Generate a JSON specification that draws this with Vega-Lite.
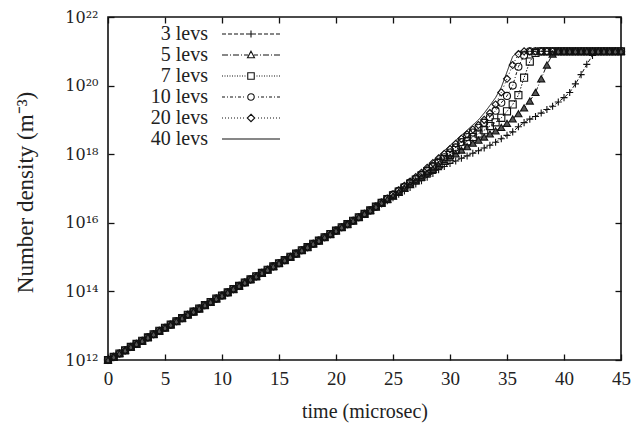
{
"$schema":"https://vega.github.io/schema/vega-lite/v6.json",
"width":513,"height":343,
"autosize":"none",
"padding":{"left":108,"top":17,"right":13,"bottom":72},
"background":"white",
"config":{"view":{"stroke":"#111","strokeWidth":1.6},"font":"Liberation Serif"},
"data":{"values":[
{"s":"3 levs","t":0,"n":1e12},{"s":"3 levs","t":0.5,"n":1.23e12},{"s":"3 levs","t":1,"n":1.55e12},{"s":"3 levs","t":1.5,"n":1.91e12},{"s":"3 levs","t":2,"n":2.4e12},{"s":"3 levs","t":2.5,"n":2.95e12},{"s":"3 levs","t":3,"n":3.63e12},{"s":"3 levs","t":3.5,"n":4.57e12},{"s":"3 levs","t":4,"n":5.62e12},{"s":"3 levs","t":4.5,"n":7.08e12},{"s":"3 levs","t":5,"n":8.71e12},{"s":"3 levs","t":5.5,"n":1.07e13},{"s":"3 levs","t":6,"n":1.35e13},{"s":"3 levs","t":6.5,"n":1.66e13},{"s":"3 levs","t":7,"n":2.09e13},{"s":"3 levs","t":7.5,"n":2.57e13},{"s":"3 levs","t":8,"n":3.16e13},{"s":"3 levs","t":8.5,"n":3.98e13},{"s":"3 levs","t":9,"n":4.9e13},{"s":"3 levs","t":9.5,"n":6.17e13},{"s":"3 levs","t":10,"n":7.59e13},{"s":"3 levs","t":10.5,"n":9.33e13},{"s":"3 levs","t":11,"n":1.17e14},{"s":"3 levs","t":11.5,"n":1.45e14},{"s":"3 levs","t":12,"n":1.82e14},{"s":"3 levs","t":12.5,"n":2.24e14},{"s":"3 levs","t":13,"n":2.75e14},{"s":"3 levs","t":13.5,"n":3.47e14},{"s":"3 levs","t":14,"n":4.27e14},{"s":"3 levs","t":14.5,"n":5.37e14},{"s":"3 levs","t":15,"n":6.61e14},{"s":"3 levs","t":15.5,"n":8.13e14},{"s":"3 levs","t":16,"n":1.02e15},{"s":"3 levs","t":16.5,"n":1.26e15},{"s":"3 levs","t":17,"n":1.58e15},{"s":"3 levs","t":17.5,"n":1.95e15},{"s":"3 levs","t":18,"n":2.45e15},{"s":"3 levs","t":18.5,"n":3.02e15},{"s":"3 levs","t":19,"n":3.8e15},{"s":"3 levs","t":19.5,"n":4.68e15},{"s":"3 levs","t":20,"n":5.89e15},{"s":"3 levs","t":20.5,"n":7.41e15},{"s":"3 levs","t":21,"n":9.12e15},{"s":"3 levs","t":21.5,"n":1.15e16},{"s":"3 levs","t":22,"n":1.45e16},{"s":"3 levs","t":22.5,"n":1.82e16},{"s":"3 levs","t":23,"n":2.29e16},{"s":"3 levs","t":23.5,"n":2.95e16},
{"s":"3 levs","t":24,"n":3.55e16},{"s":"3 levs","t":24.5,"n":4.37e16},{"s":"3 levs","t":25,"n":5.37e16},{"s":"3 levs","t":25.5,"n":6.76e16},{"s":"3 levs","t":26,"n":8.51e16},{"s":"3 levs","t":26.5,"n":1.07e17},{"s":"3 levs","t":27,"n":1.35e17},{"s":"3 levs","t":27.5,"n":1.7e17},{"s":"3 levs","t":28,"n":2.14e17},{"s":"3 levs","t":28.5,"n":2.75e17},{"s":"3 levs","t":29,"n":3.55e17},{"s":"3 levs","t":29.5,"n":4.37e17},{"s":"3 levs","t":30,"n":5.37e17},{"s":"3 levs","t":30.5,"n":6.31e17},{"s":"3 levs","t":31,"n":7.59e17},{"s":"3 levs","t":31.5,"n":8.91e17},{"s":"3 levs","t":32,"n":1.07e18},{"s":"3 levs","t":32.5,"n":1.26e18},{"s":"3 levs","t":33,"n":1.51e18},{"s":"3 levs","t":33.5,"n":1.82e18},{"s":"3 levs","t":34,"n":2.24e18},{"s":"3 levs","t":34.5,"n":2.82e18},{"s":"3 levs","t":35,"n":3.55e18},{"s":"3 levs","t":35.5,"n":4.47e18},{"s":"3 levs","t":36,"n":6.31e18},{"s":"3 levs","t":36.5,"n":8.32e18},{"s":"3 levs","t":37,"n":1.05e19},{"s":"3 levs","t":37.5,"n":1.26e19},{"s":"3 levs","t":38,"n":1.58e19},{"s":"3 levs","t":38.5,"n":2e19},{"s":"3 levs","t":39,"n":2.51e19},{"s":"3 levs","t":39.5,"n":3.31e19},{"s":"3 levs","t":40,"n":4.47e19},{"s":"3 levs","t":40.5,"n":6.31e19},{"s":"3 levs","t":41,"n":1.12e20},{"s":"3 levs","t":41.5,"n":2.09e20},{"s":"3 levs","t":42,"n":4.17e20},{"s":"3 levs","t":42.5,"n":7.59e20},{"s":"3 levs","t":43,"n":1e21},{"s":"3 levs","t":43.5,"n":1e21},{"s":"3 levs","t":44,"n":1e21},{"s":"3 levs","t":44.5,"n":1e21},{"s":"3 levs","t":45,"n":1e21},
{"s":"5 levs","t":0,"n":1e12},{"s":"5 levs","t":0.5,"n":1.23e12},{"s":"5 levs","t":1,"n":1.55e12},{"s":"5 levs","t":1.5,"n":1.91e12},{"s":"5 levs","t":2,"n":2.4e12},{"s":"5 levs","t":2.5,"n":2.95e12},{"s":"5 levs","t":3,"n":3.63e12},{"s":"5 levs","t":3.5,"n":4.57e12},{"s":"5 levs","t":4,"n":5.62e12},{"s":"5 levs","t":4.5,"n":7.08e12},{"s":"5 levs","t":5,"n":8.71e12},{"s":"5 levs","t":5.5,"n":1.07e13},{"s":"5 levs","t":6,"n":1.35e13},{"s":"5 levs","t":6.5,"n":1.66e13},{"s":"5 levs","t":7,"n":2.09e13},{"s":"5 levs","t":7.5,"n":2.57e13},{"s":"5 levs","t":8,"n":3.16e13},{"s":"5 levs","t":8.5,"n":3.98e13},{"s":"5 levs","t":9,"n":4.9e13},{"s":"5 levs","t":9.5,"n":6.17e13},{"s":"5 levs","t":10,"n":7.59e13},{"s":"5 levs","t":10.5,"n":9.33e13},{"s":"5 levs","t":11,"n":1.17e14},{"s":"5 levs","t":11.5,"n":1.45e14},{"s":"5 levs","t":12,"n":1.82e14},{"s":"5 levs","t":12.5,"n":2.24e14},{"s":"5 levs","t":13,"n":2.75e14},{"s":"5 levs","t":13.5,"n":3.47e14},{"s":"5 levs","t":14,"n":4.27e14},{"s":"5 levs","t":14.5,"n":5.37e14},{"s":"5 levs","t":15,"n":6.61e14},{"s":"5 levs","t":15.5,"n":8.13e14},{"s":"5 levs","t":16,"n":1.02e15},{"s":"5 levs","t":16.5,"n":1.26e15},{"s":"5 levs","t":17,"n":1.58e15},{"s":"5 levs","t":17.5,"n":1.95e15},{"s":"5 levs","t":18,"n":2.45e15},{"s":"5 levs","t":18.5,"n":3.02e15},{"s":"5 levs","t":19,"n":3.8e15},{"s":"5 levs","t":19.5,"n":4.68e15},{"s":"5 levs","t":20,"n":5.89e15},{"s":"5 levs","t":20.5,"n":7.41e15},{"s":"5 levs","t":21,"n":9.12e15},{"s":"5 levs","t":21.5,"n":1.15e16},{"s":"5 levs","t":22,"n":1.45e16},{"s":"5 levs","t":22.5,"n":1.82e16},{"s":"5 levs","t":23,"n":2.29e16},{"s":"5 levs","t":23.5,"n":2.95e16},
{"s":"5 levs","t":24,"n":3.8e16},{"s":"5 levs","t":24.5,"n":4.79e16},{"s":"5 levs","t":25,"n":6.03e16},{"s":"5 levs","t":25.5,"n":7.76e16},{"s":"5 levs","t":26,"n":1e17},{"s":"5 levs","t":26.5,"n":1.29e17},{"s":"5 levs","t":27,"n":1.66e17},{"s":"5 levs","t":27.5,"n":2.14e17},{"s":"5 levs","t":28,"n":2.82e17},{"s":"5 levs","t":28.5,"n":3.63e17},{"s":"5 levs","t":29,"n":4.79e17},{"s":"5 levs","t":29.5,"n":6.17e17},{"s":"5 levs","t":30,"n":7.94e17},{"s":"5 levs","t":30.5,"n":1.02e18},{"s":"5 levs","t":31,"n":1.32e18},{"s":"5 levs","t":31.5,"n":1.66e18},{"s":"5 levs","t":32,"n":2.09e18},{"s":"5 levs","t":32.5,"n":2.57e18},{"s":"5 levs","t":33,"n":3.16e18},{"s":"5 levs","t":33.5,"n":3.89e18},{"s":"5 levs","t":34,"n":4.79e18},{"s":"5 levs","t":34.5,"n":6.03e18},{"s":"5 levs","t":35,"n":7.94e18},{"s":"5 levs","t":35.5,"n":1.07e19},{"s":"5 levs","t":36,"n":1.51e19},{"s":"5 levs","t":36.5,"n":2.24e19},{"s":"5 levs","t":37,"n":3.55e19},{"s":"5 levs","t":37.5,"n":6.31e19},{"s":"5 levs","t":38,"n":1.58e20},{"s":"5 levs","t":38.5,"n":3.98e20},{"s":"5 levs","t":39,"n":8.32e20},{"s":"5 levs","t":39.5,"n":1e21},{"s":"5 levs","t":40,"n":1e21},{"s":"5 levs","t":40.5,"n":1e21},{"s":"5 levs","t":41,"n":1e21},{"s":"5 levs","t":41.5,"n":1e21},{"s":"5 levs","t":42,"n":1e21},{"s":"5 levs","t":42.5,"n":1e21},{"s":"5 levs","t":43,"n":1e21},{"s":"5 levs","t":43.5,"n":1e21},{"s":"5 levs","t":44,"n":1e21},{"s":"5 levs","t":44.5,"n":1e21},{"s":"5 levs","t":45,"n":1e21},
{"s":"7 levs","t":0,"n":1e12},{"s":"7 levs","t":0.5,"n":1.23e12},{"s":"7 levs","t":1,"n":1.55e12},{"s":"7 levs","t":1.5,"n":1.91e12},{"s":"7 levs","t":2,"n":2.4e12},{"s":"7 levs","t":2.5,"n":2.95e12},{"s":"7 levs","t":3,"n":3.63e12},{"s":"7 levs","t":3.5,"n":4.57e12},{"s":"7 levs","t":4,"n":5.62e12},{"s":"7 levs","t":4.5,"n":7.08e12},{"s":"7 levs","t":5,"n":8.71e12},{"s":"7 levs","t":5.5,"n":1.07e13},{"s":"7 levs","t":6,"n":1.35e13},{"s":"7 levs","t":6.5,"n":1.66e13},{"s":"7 levs","t":7,"n":2.09e13},{"s":"7 levs","t":7.5,"n":2.57e13},{"s":"7 levs","t":8,"n":3.16e13},{"s":"7 levs","t":8.5,"n":3.98e13},{"s":"7 levs","t":9,"n":4.9e13},{"s":"7 levs","t":9.5,"n":6.17e13},{"s":"7 levs","t":10,"n":7.59e13},{"s":"7 levs","t":10.5,"n":9.33e13},{"s":"7 levs","t":11,"n":1.17e14},{"s":"7 levs","t":11.5,"n":1.45e14},{"s":"7 levs","t":12,"n":1.82e14},{"s":"7 levs","t":12.5,"n":2.24e14},{"s":"7 levs","t":13,"n":2.75e14},{"s":"7 levs","t":13.5,"n":3.47e14},{"s":"7 levs","t":14,"n":4.27e14},{"s":"7 levs","t":14.5,"n":5.37e14},{"s":"7 levs","t":15,"n":6.61e14},{"s":"7 levs","t":15.5,"n":8.13e14},{"s":"7 levs","t":16,"n":1.02e15},{"s":"7 levs","t":16.5,"n":1.26e15},{"s":"7 levs","t":17,"n":1.58e15},{"s":"7 levs","t":17.5,"n":1.95e15},{"s":"7 levs","t":18,"n":2.45e15},{"s":"7 levs","t":18.5,"n":3.02e15},{"s":"7 levs","t":19,"n":3.8e15},{"s":"7 levs","t":19.5,"n":4.68e15},{"s":"7 levs","t":20,"n":5.89e15},{"s":"7 levs","t":20.5,"n":7.41e15},{"s":"7 levs","t":21,"n":9.12e15},{"s":"7 levs","t":21.5,"n":1.15e16},{"s":"7 levs","t":22,"n":1.45e16},{"s":"7 levs","t":22.5,"n":1.82e16},{"s":"7 levs","t":23,"n":2.29e16},{"s":"7 levs","t":23.5,"n":2.95e16},
{"s":"7 levs","t":24,"n":3.8e16},{"s":"7 levs","t":24.5,"n":4.9e16},{"s":"7 levs","t":25,"n":6.31e16},{"s":"7 levs","t":25.5,"n":8.13e16},{"s":"7 levs","t":26,"n":1.07e17},{"s":"7 levs","t":26.5,"n":1.38e17},{"s":"7 levs","t":27,"n":1.82e17},{"s":"7 levs","t":27.5,"n":2.4e17},{"s":"7 levs","t":28,"n":3.16e17},{"s":"7 levs","t":28.5,"n":4.17e17},{"s":"7 levs","t":29,"n":5.5e17},{"s":"7 levs","t":29.5,"n":7.24e17},{"s":"7 levs","t":30,"n":9.55e17},{"s":"7 levs","t":30.5,"n":1.32e18},{"s":"7 levs","t":31,"n":1.78e18},{"s":"7 levs","t":31.5,"n":2.4e18},{"s":"7 levs","t":32,"n":3.16e18},{"s":"7 levs","t":32.5,"n":3.98e18},{"s":"7 levs","t":33,"n":5.01e18},{"s":"7 levs","t":33.5,"n":6.61e18},{"s":"7 levs","t":34,"n":8.51e18},{"s":"7 levs","t":34.5,"n":1.15e19},{"s":"7 levs","t":35,"n":1.78e19},{"s":"7 levs","t":35.5,"n":2.82e19},{"s":"7 levs","t":36,"n":5.25e19},{"s":"7 levs","t":36.5,"n":1.7e20},{"s":"7 levs","t":37,"n":5.01e20},{"s":"7 levs","t":37.5,"n":8.91e20},{"s":"7 levs","t":38,"n":1e21},{"s":"7 levs","t":38.5,"n":1e21},{"s":"7 levs","t":39,"n":1e21},{"s":"7 levs","t":39.5,"n":1e21},{"s":"7 levs","t":40,"n":1e21},{"s":"7 levs","t":40.5,"n":1e21},{"s":"7 levs","t":41,"n":1e21},{"s":"7 levs","t":41.5,"n":1e21},{"s":"7 levs","t":42,"n":1e21},{"s":"7 levs","t":42.5,"n":1e21},{"s":"7 levs","t":43,"n":1e21},{"s":"7 levs","t":43.5,"n":1e21},{"s":"7 levs","t":44,"n":1e21},{"s":"7 levs","t":44.5,"n":1e21},{"s":"7 levs","t":45,"n":1e21},
{"s":"10 levs","t":0,"n":1e12},{"s":"10 levs","t":0.5,"n":1.23e12},{"s":"10 levs","t":1,"n":1.55e12},{"s":"10 levs","t":1.5,"n":1.91e12},{"s":"10 levs","t":2,"n":2.4e12},{"s":"10 levs","t":2.5,"n":2.95e12},{"s":"10 levs","t":3,"n":3.63e12},{"s":"10 levs","t":3.5,"n":4.57e12},{"s":"10 levs","t":4,"n":5.62e12},{"s":"10 levs","t":4.5,"n":7.08e12},{"s":"10 levs","t":5,"n":8.71e12},{"s":"10 levs","t":5.5,"n":1.07e13},{"s":"10 levs","t":6,"n":1.35e13},{"s":"10 levs","t":6.5,"n":1.66e13},{"s":"10 levs","t":7,"n":2.09e13},{"s":"10 levs","t":7.5,"n":2.57e13},{"s":"10 levs","t":8,"n":3.16e13},{"s":"10 levs","t":8.5,"n":3.98e13},{"s":"10 levs","t":9,"n":4.9e13},{"s":"10 levs","t":9.5,"n":6.17e13},{"s":"10 levs","t":10,"n":7.59e13},{"s":"10 levs","t":10.5,"n":9.33e13},{"s":"10 levs","t":11,"n":1.17e14},{"s":"10 levs","t":11.5,"n":1.45e14},{"s":"10 levs","t":12,"n":1.82e14},{"s":"10 levs","t":12.5,"n":2.24e14},{"s":"10 levs","t":13,"n":2.75e14},{"s":"10 levs","t":13.5,"n":3.47e14},{"s":"10 levs","t":14,"n":4.27e14},{"s":"10 levs","t":14.5,"n":5.37e14},{"s":"10 levs","t":15,"n":6.61e14},{"s":"10 levs","t":15.5,"n":8.13e14},{"s":"10 levs","t":16,"n":1.02e15},{"s":"10 levs","t":16.5,"n":1.26e15},{"s":"10 levs","t":17,"n":1.58e15},{"s":"10 levs","t":17.5,"n":1.95e15},{"s":"10 levs","t":18,"n":2.45e15},{"s":"10 levs","t":18.5,"n":3.02e15},{"s":"10 levs","t":19,"n":3.8e15},{"s":"10 levs","t":19.5,"n":4.68e15},{"s":"10 levs","t":20,"n":5.89e15},{"s":"10 levs","t":20.5,"n":7.41e15},{"s":"10 levs","t":21,"n":9.12e15},{"s":"10 levs","t":21.5,"n":1.15e16},{"s":"10 levs","t":22,"n":1.45e16},{"s":"10 levs","t":22.5,"n":1.82e16},{"s":"10 levs","t":23,"n":2.29e16},{"s":"10 levs","t":23.5,"n":2.95e16},
{"s":"10 levs","t":24,"n":3.89e16},{"s":"10 levs","t":24.5,"n":5.01e16},{"s":"10 levs","t":25,"n":6.61e16},{"s":"10 levs","t":25.5,"n":8.51e16},{"s":"10 levs","t":26,"n":1.12e17},{"s":"10 levs","t":26.5,"n":1.48e17},{"s":"10 levs","t":27,"n":1.91e17},{"s":"10 levs","t":27.5,"n":2.51e17},{"s":"10 levs","t":28,"n":3.31e17},{"s":"10 levs","t":28.5,"n":4.47e17},{"s":"10 levs","t":29,"n":6.03e17},{"s":"10 levs","t":29.5,"n":8.13e17},{"s":"10 levs","t":30,"n":1.12e18},{"s":"10 levs","t":30.5,"n":1.58e18},{"s":"10 levs","t":31,"n":2.24e18},{"s":"10 levs","t":31.5,"n":3.16e18},{"s":"10 levs","t":32,"n":4.27e18},{"s":"10 levs","t":32.5,"n":5.89e18},{"s":"10 levs","t":33,"n":8.32e18},{"s":"10 levs","t":33.5,"n":1.2e19},{"s":"10 levs","t":34,"n":1.86e19},{"s":"10 levs","t":34.5,"n":3.16e19},{"s":"10 levs","t":35,"n":5.01e19},{"s":"10 levs","t":35.5,"n":1e20},{"s":"10 levs","t":36,"n":3.55e20},{"s":"10 levs","t":36.5,"n":7.59e20},{"s":"10 levs","t":37,"n":1e21},{"s":"10 levs","t":37.5,"n":1e21},{"s":"10 levs","t":38,"n":1e21},{"s":"10 levs","t":38.5,"n":1e21},{"s":"10 levs","t":39,"n":1e21},{"s":"10 levs","t":39.5,"n":1e21},{"s":"10 levs","t":40,"n":1e21},{"s":"10 levs","t":40.5,"n":1e21},{"s":"10 levs","t":41,"n":1e21},{"s":"10 levs","t":41.5,"n":1e21},{"s":"10 levs","t":42,"n":1e21},{"s":"10 levs","t":42.5,"n":1e21},{"s":"10 levs","t":43,"n":1e21},{"s":"10 levs","t":43.5,"n":1e21},{"s":"10 levs","t":44,"n":1e21},{"s":"10 levs","t":44.5,"n":1e21},{"s":"10 levs","t":45,"n":1e21},
{"s":"20 levs","t":0,"n":1e12},{"s":"20 levs","t":0.5,"n":1.23e12},{"s":"20 levs","t":1,"n":1.55e12},{"s":"20 levs","t":1.5,"n":1.91e12},{"s":"20 levs","t":2,"n":2.4e12},{"s":"20 levs","t":2.5,"n":2.95e12},{"s":"20 levs","t":3,"n":3.63e12},{"s":"20 levs","t":3.5,"n":4.57e12},{"s":"20 levs","t":4,"n":5.62e12},{"s":"20 levs","t":4.5,"n":7.08e12},{"s":"20 levs","t":5,"n":8.71e12},{"s":"20 levs","t":5.5,"n":1.07e13},{"s":"20 levs","t":6,"n":1.35e13},{"s":"20 levs","t":6.5,"n":1.66e13},{"s":"20 levs","t":7,"n":2.09e13},{"s":"20 levs","t":7.5,"n":2.57e13},{"s":"20 levs","t":8,"n":3.16e13},{"s":"20 levs","t":8.5,"n":3.98e13},{"s":"20 levs","t":9,"n":4.9e13},{"s":"20 levs","t":9.5,"n":6.17e13},{"s":"20 levs","t":10,"n":7.59e13},{"s":"20 levs","t":10.5,"n":9.33e13},{"s":"20 levs","t":11,"n":1.17e14},{"s":"20 levs","t":11.5,"n":1.45e14},{"s":"20 levs","t":12,"n":1.82e14},{"s":"20 levs","t":12.5,"n":2.24e14},{"s":"20 levs","t":13,"n":2.75e14},{"s":"20 levs","t":13.5,"n":3.47e14},{"s":"20 levs","t":14,"n":4.27e14},{"s":"20 levs","t":14.5,"n":5.37e14},{"s":"20 levs","t":15,"n":6.61e14},{"s":"20 levs","t":15.5,"n":8.13e14},{"s":"20 levs","t":16,"n":1.02e15},{"s":"20 levs","t":16.5,"n":1.26e15},{"s":"20 levs","t":17,"n":1.58e15},{"s":"20 levs","t":17.5,"n":1.95e15},{"s":"20 levs","t":18,"n":2.45e15},{"s":"20 levs","t":18.5,"n":3.02e15},{"s":"20 levs","t":19,"n":3.8e15},{"s":"20 levs","t":19.5,"n":4.68e15},{"s":"20 levs","t":20,"n":5.89e15},{"s":"20 levs","t":20.5,"n":7.41e15},{"s":"20 levs","t":21,"n":9.12e15},{"s":"20 levs","t":21.5,"n":1.15e16},{"s":"20 levs","t":22,"n":1.45e16},{"s":"20 levs","t":22.5,"n":1.82e16},{"s":"20 levs","t":23,"n":2.29e16},{"s":"20 levs","t":23.5,"n":2.95e16},
{"s":"20 levs","t":24,"n":3.89e16},{"s":"20 levs","t":24.5,"n":5.13e16},{"s":"20 levs","t":25,"n":6.76e16},{"s":"20 levs","t":25.5,"n":8.91e16},{"s":"20 levs","t":26,"n":1.2e17},{"s":"20 levs","t":26.5,"n":1.58e17},{"s":"20 levs","t":27,"n":2.14e17},{"s":"20 levs","t":27.5,"n":2.88e17},{"s":"20 levs","t":28,"n":3.98e17},{"s":"20 levs","t":28.5,"n":5.5e17},{"s":"20 levs","t":29,"n":7.59e17},{"s":"20 levs","t":29.5,"n":1.02e18},{"s":"20 levs","t":30,"n":1.41e18},{"s":"20 levs","t":30.5,"n":2e18},{"s":"20 levs","t":31,"n":2.82e18},{"s":"20 levs","t":31.5,"n":3.8e18},{"s":"20 levs","t":32,"n":5.25e18},{"s":"20 levs","t":32.5,"n":7.08e18},{"s":"20 levs","t":33,"n":1e19},{"s":"20 levs","t":33.5,"n":1.58e19},{"s":"20 levs","t":34,"n":2.82e19},{"s":"20 levs","t":34.5,"n":6.31e19},{"s":"20 levs","t":35,"n":1.58e20},{"s":"20 levs","t":35.5,"n":3.98e20},{"s":"20 levs","t":36,"n":8.32e20},{"s":"20 levs","t":36.5,"n":1e21},{"s":"20 levs","t":37,"n":1e21},{"s":"20 levs","t":37.5,"n":1e21},{"s":"20 levs","t":38,"n":1e21},{"s":"20 levs","t":38.5,"n":1e21},{"s":"20 levs","t":39,"n":1e21},{"s":"20 levs","t":39.5,"n":1e21},{"s":"20 levs","t":40,"n":1e21},{"s":"20 levs","t":40.5,"n":1e21},{"s":"20 levs","t":41,"n":1e21},{"s":"20 levs","t":41.5,"n":1e21},{"s":"20 levs","t":42,"n":1e21},{"s":"20 levs","t":42.5,"n":1e21},{"s":"20 levs","t":43,"n":1e21},{"s":"20 levs","t":43.5,"n":1e21},{"s":"20 levs","t":44,"n":1e21},{"s":"20 levs","t":44.5,"n":1e21},{"s":"20 levs","t":45,"n":1e21},
{"s":"40 levs","t":0,"n":1e12},{"s":"40 levs","t":0.5,"n":1.23e12},{"s":"40 levs","t":1,"n":1.55e12},{"s":"40 levs","t":1.5,"n":1.91e12},{"s":"40 levs","t":2,"n":2.4e12},{"s":"40 levs","t":2.5,"n":2.95e12},{"s":"40 levs","t":3,"n":3.63e12},{"s":"40 levs","t":3.5,"n":4.57e12},{"s":"40 levs","t":4,"n":5.62e12},{"s":"40 levs","t":4.5,"n":7.08e12},{"s":"40 levs","t":5,"n":8.71e12},{"s":"40 levs","t":5.5,"n":1.07e13},{"s":"40 levs","t":6,"n":1.35e13},{"s":"40 levs","t":6.5,"n":1.66e13},{"s":"40 levs","t":7,"n":2.09e13},{"s":"40 levs","t":7.5,"n":2.57e13},{"s":"40 levs","t":8,"n":3.16e13},{"s":"40 levs","t":8.5,"n":3.98e13},{"s":"40 levs","t":9,"n":4.9e13},{"s":"40 levs","t":9.5,"n":6.17e13},{"s":"40 levs","t":10,"n":7.59e13},{"s":"40 levs","t":10.5,"n":9.33e13},{"s":"40 levs","t":11,"n":1.17e14},{"s":"40 levs","t":11.5,"n":1.45e14},{"s":"40 levs","t":12,"n":1.82e14},{"s":"40 levs","t":12.5,"n":2.24e14},{"s":"40 levs","t":13,"n":2.75e14},{"s":"40 levs","t":13.5,"n":3.47e14},{"s":"40 levs","t":14,"n":4.27e14},{"s":"40 levs","t":14.5,"n":5.37e14},{"s":"40 levs","t":15,"n":6.61e14},{"s":"40 levs","t":15.5,"n":8.13e14},{"s":"40 levs","t":16,"n":1.02e15},{"s":"40 levs","t":16.5,"n":1.26e15},{"s":"40 levs","t":17,"n":1.58e15},{"s":"40 levs","t":17.5,"n":1.95e15},{"s":"40 levs","t":18,"n":2.45e15},{"s":"40 levs","t":18.5,"n":3.02e15},{"s":"40 levs","t":19,"n":3.8e15},{"s":"40 levs","t":19.5,"n":4.68e15},{"s":"40 levs","t":20,"n":5.89e15},{"s":"40 levs","t":20.5,"n":7.41e15},{"s":"40 levs","t":21,"n":9.12e15},{"s":"40 levs","t":21.5,"n":1.15e16},{"s":"40 levs","t":22,"n":1.45e16},{"s":"40 levs","t":22.5,"n":1.82e16},{"s":"40 levs","t":23,"n":2.29e16},{"s":"40 levs","t":23.5,"n":2.95e16},
{"s":"40 levs","t":24,"n":3.98e16},{"s":"40 levs","t":24.5,"n":5.25e16},{"s":"40 levs","t":25,"n":6.92e16},{"s":"40 levs","t":25.5,"n":9.33e16},{"s":"40 levs","t":26,"n":1.26e17},{"s":"40 levs","t":26.5,"n":1.7e17},{"s":"40 levs","t":27,"n":2.34e17},{"s":"40 levs","t":27.5,"n":3.24e17},{"s":"40 levs","t":28,"n":4.47e17},{"s":"40 levs","t":28.5,"n":6.31e17},{"s":"40 levs","t":29,"n":8.91e17},{"s":"40 levs","t":29.5,"n":1.26e18},{"s":"40 levs","t":30,"n":1.78e18},{"s":"40 levs","t":30.5,"n":2.51e18},{"s":"40 levs","t":31,"n":3.55e18},{"s":"40 levs","t":31.5,"n":5.01e18},{"s":"40 levs","t":32,"n":7.08e18},{"s":"40 levs","t":32.5,"n":1e19},{"s":"40 levs","t":33,"n":1.58e19},{"s":"40 levs","t":33.5,"n":2.63e19},{"s":"40 levs","t":34,"n":4.47e19},{"s":"40 levs","t":34.5,"n":8.91e19},{"s":"40 levs","t":35,"n":2.51e20},{"s":"40 levs","t":35.5,"n":7.08e20},{"s":"40 levs","t":36,"n":1e21},{"s":"40 levs","t":36.5,"n":1e21},{"s":"40 levs","t":37,"n":1e21},{"s":"40 levs","t":37.5,"n":1e21},{"s":"40 levs","t":38,"n":1e21},{"s":"40 levs","t":38.5,"n":1e21},{"s":"40 levs","t":39,"n":1e21},{"s":"40 levs","t":39.5,"n":1e21},{"s":"40 levs","t":40,"n":1e21},{"s":"40 levs","t":40.5,"n":1e21},{"s":"40 levs","t":41,"n":1e21},{"s":"40 levs","t":41.5,"n":1e21},{"s":"40 levs","t":42,"n":1e21},{"s":"40 levs","t":42.5,"n":1e21},{"s":"40 levs","t":43,"n":1e21},{"s":"40 levs","t":43.5,"n":1e21},{"s":"40 levs","t":44,"n":1e21},{"s":"40 levs","t":44.5,"n":1e21},{"s":"40 levs","t":45,"n":1e21}
]},
"layer":[
{"mark":{"type":"line","color":"#111","strokeWidth":1},
 "encoding":{
  "x":{"field":"t","type":"quantitative","scale":{"domain":[0,45],"nice":false,"zero":false},
   "axis":{"orient":"bottom","values":[0,5,10,15,20,25,30,35,40,45],"grid":false,"domain":false,"tickSize":-6,"tickWidth":1.3,"tickColor":"#111","labelFont":"Liberation Serif","labelFontSize":19,"labelColor":"#222","labelPadding":15,"labelFlush":false,"title":"time (microsec)","titleFont":"Liberation Serif","titleFontSize":20,"titleFontWeight":"normal","titleColor":"#222","titleBaseline":"alphabetic","titleY":57}},
  "y":{"field":"n","type":"quantitative","scale":{"type":"log","domain":[1e12,1e22]},
   "axis":{"orient":"left","values":[1e12,1e14,1e16,1e18,1e20,1e22],"grid":false,"domain":false,"tickSize":-6,"tickWidth":1.3,"tickColor":"#111","labelFont":"DejaVu Serif","labelFontSize":16,"labelColor":"#222","labelPadding":16,"labelFlush":false,
    "labelExpr":"datum.value < 1e13 ? '10¹²' : datum.value < 1e15 ? '10¹⁴' : datum.value < 1e17 ? '10¹⁶' : datum.value < 1e19 ? '10¹⁸' : datum.value < 1e21 ? '10²⁰' : '10²²'",
    "title":"Number density (m⁻³)","titleFont":"Liberation Serif","titleFontSize":23,"titleFontWeight":"normal","titleColor":"#222","titleBaseline":"alphabetic","titleAngle":-90,"titleAlign":"center","titleX":-76,"titleY":175}},
  "strokeDash":{"field":"s","type":"nominal","scale":{"domain":["3 levs","5 levs","7 levs","10 levs","20 levs","40 levs"],"range":[[4,2],[6,2,1,2],[1.5,1.5],[3,2,1,2],[1,2.5],[1,0]]},"legend":null}
 }},
{"transform":[{"filter":"datum.s != '40 levs'"}],
 "mark":{"type":"point","stroke":"#111","strokeWidth":1.1,"size":50,"opacity":1},
 "encoding":{
  "x":{"field":"t","type":"quantitative","axis":null},
  "y":{"field":"n","type":"quantitative","axis":null},
  "shape":{"field":"s","type":"nominal","scale":{"domain":["3 levs","5 levs","7 levs","10 levs","20 levs"],"range":["M-1,0H1M0,-1V1","triangle-up","square","circle","diamond"]},"legend":null},
  "fill":{"field":"s","type":"nominal","scale":{"domain":["3 levs","5 levs","7 levs","10 levs","20 levs"],"range":["transparent","#555","transparent","transparent","transparent"]},"legend":null}
 }},
{"transform":[{"filter":"datum.t == 0"}],
 "mark":{"type":"point","opacity":0,"size":100},
 "encoding":{
  "x":{"field":"t","type":"quantitative","axis":{"orient":"top","values":[0,5,10,15,20,25,30,35,40,45],"labels":false,"title":null,"grid":false,"domain":false,"tickSize":-6,"tickWidth":1.3,"tickColor":"#111"}},
  "y":{"field":"n","type":"quantitative","axis":{"orient":"right","values":[1e12,1e14,1e16,1e18,1e20,1e22],"labels":false,"title":null,"grid":false,"domain":false,"tickSize":-6,"tickWidth":1.3,"tickColor":"#111"}},
  "shape":{"field":"s","type":"nominal","scale":{"domain":["3 levs","5 levs","7 levs","10 levs","20 levs","40 levs"],"range":[
   "M-1,0H-0.2M0.2,0H1M1.4,0H2.2M2.6,0H3.4M3.8,0H4.6M5,0H5.8M6.2,0H7M7.4,0H8.2M8.6,0H9.4M9.8,0H10.6M4.1,0H5.5M4.8,-0.7V0.7",
   "M-1,0H0.2M0.6,0H0.8M1.2,0H2.4M2.8,0H3M3.4,0H4.2M5.4,0H6.2M6.6,0H6.8M7.2,0H8.4M8.8,0H9M9.4,0H10.6M4.8,-0.75L5.5,0.55L4.1,0.55Z",
   "M-1,0H-0.8M-0.5,0H-0.3M0,0H0.2M0.5,0H0.7M1,0H1.2M1.5,0H1.7M2,0H2.2M2.5,0H2.7M3,0H3.2M3.5,0H3.7M5.9,0H6.1M6.4,0H6.6M6.9,0H7.1M7.4,0H7.6M7.9,0H8.1M8.4,0H8.6M8.9,0H9.1M9.4,0H9.6M9.9,0H10.1M10.4,0H10.6M4.15,-0.65H5.45V0.65H4.15Z",
   "M-1,0H-0.4M0,0H0.2M0.6,0H1.2M1.6,0H1.8M2.2,0H2.8M3.2,0H3.4M6.2,0H6.4M6.8,0H7.4M7.8,0H8M8.4,0H9M9.4,0H9.6M10,0H10.6M5.45,0A0.65,0.65,0,1,1,4.15,0A0.65,0.65,0,1,1,5.45,0Z",
   "M-1,0H-0.8M-0.4,0H-0.2M0.2,0H0.4M0.8,0H1M1.4,0H1.6M2,0H2.2M2.6,0H2.8M3.2,0H3.4M6.2,0H6.4M6.8,0H7M7.4,0H7.6M8,0H8.2M8.6,0H8.8M9.2,0H9.4M9.8,0H10M10.4,0H10.6M4.8,-0.75L5.55,0L4.8,0.75L4.05,0Z",
   "M-1,0H10.6"]},
   "legend":{"title":null,"orient":"none","legendX":109,"legendY":7,"padding":0,"symbolSize":100,"symbolStrokeWidth":1.1,"symbolStrokeColor":"#111","symbolFillColor":"white","symbolOpacity":1,"labelAlign":"right","labelOffset":-29,"labelFont":"Liberation Serif","labelFontSize":20,"labelColor":"#222","rowPadding":1,"labelLimit":200}}
 }}
],
"resolve":{"scale":{"shape":"independent"},"legend":{"shape":"independent"},"axis":{"x":"independent","y":"independent"}}
}
